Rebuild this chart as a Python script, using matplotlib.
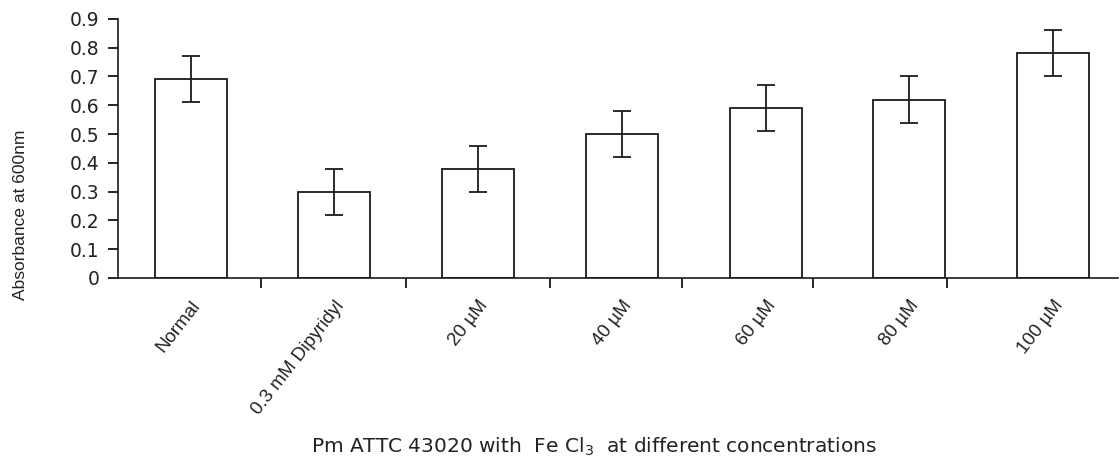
import numpy as np
import matplotlib.pyplot as plt

plt.rcParams['font.family'] = ['Liberation Sans', 'DejaVu Sans']

# data
categories = ['Normal', '0.3 mM Dipyridyl', '20 \u00b5M', '40 \u00b5M',
              '60 \u00b5M', '80 \u00b5M', '100 \u00b5M']
absorbance = [0.69, 0.30, 0.38, 0.50, 0.59, 0.62, 0.78]
errors = [0.08, 0.08, 0.08, 0.08, 0.08, 0.08, 0.08]
yticks = [0, 0.1, 0.2, 0.3, 0.4, 0.5, 0.6, 0.7, 0.8, 0.9]
sep_ticks = [0.49, 1.5, 2.5, 3.42, 4.33, 5.26]

fig = plt.figure(figsize=(11.2, 4.61), dpi=100)
ax = fig.add_axes([0.105, 0.397, 0.893, 0.562])

x = np.arange(len(categories))
ax.bar(x, absorbance, width=0.5, color='white', edgecolor='#1a1a1a',
       linewidth=1.3, zorder=2)
ax.errorbar(x, absorbance, yerr=errors, fmt='none', ecolor='#1a1a1a',
            elinewidth=1.3, capsize=6.5, capthick=1.3, zorder=3)

ax.set_xlim(-0.508, 6.45)
ax.set_ylim(0, 0.9)
ax.set_yticks(yticks)
ax.set_yticklabels(['0' if v == 0 else '%.1f' % v for v in yticks],
                   fontsize=13.5, family='DejaVu Sans', color='#222222')

ax.set_xticks(x)
ax.set_xticklabels(categories, rotation=52, ha='right', va='top',
                   rotation_mode='anchor', fontsize=13.5, color='#222222')
ax.tick_params(axis='x', which='major', length=0, pad=14)
ax.set_xticks(sep_ticks, minor=True)
ax.tick_params(axis='x', which='minor', length=7, width=1.2, direction='out')
ax.tick_params(axis='y', length=7, width=1.2, direction='out', pad=6)

for s in ['top', 'right']:
    ax.spines[s].set_visible(False)
for s in ['left', 'bottom']:
    ax.spines[s].set_linewidth(1.2)
    ax.spines[s].set_color('#1a1a1a')

fig.text(0.018, 0.534, 'Absorbance at 600nm', rotation=90, ha='center',
         va='center', fontsize=12.5, color='#222222')
fig.text(0.53, 0.03, r'Pm ATTC 43020 with  $\mathregular{Fe\ Cl_3}$  at different concentrations',
         ha='center', va='center', fontsize=14.5, family='DejaVu Sans',
         color='#222222')

fig.savefig('out.png', dpi=100)
